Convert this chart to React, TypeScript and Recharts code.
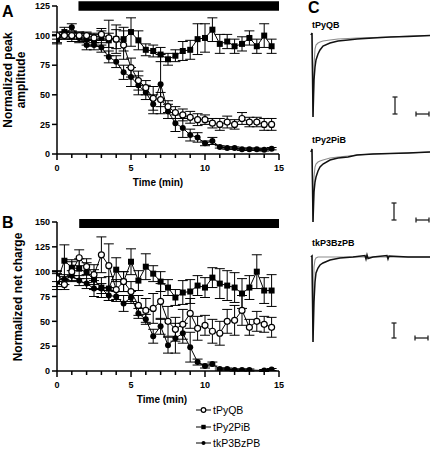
import React from "react";
import {
  LineChart,
  Line,
  XAxis,
  YAxis,
  ErrorBar,
  ReferenceArea,
  ReferenceLine,
  Legend,
} from "recharts";

const FONT = "Arial, 'Liberation Sans', Helvetica, sans-serif";

/* ---------- time-course data (A: peak amplitude, B: net charge) ---------- */

const times = [0, 0.5, 1, 1.5, 2, 2.5, 3, 3.5, 4, 4.5, 5, 5.5, 6, 6.5, 7, 7.5, 8, 8.5, 9, 9.5, 10, 10.5, 11, 11.5, 12, 12.5, 13, 13.5, 14, 14.5];
const timeTicks = [0, 1, 2, 3, 4, 5, 6, 7, 8, 9, 10, 11, 12, 13, 14, 15];
const ampTicks = [0, 25, 50, 75, 100, 125];
const chargeTicks = [0, 25, 50, 75, 100, 125, 150];
const seriesNames = ["tPyQB", "tPy2PiB", "tkP3BzPB"];

const ampQB = [100, 100, 100, 100, 100, 98, 101, 98, 97, 92, 73, 62, 56, 47, 46, 40, 35, 33, 31, 29, 29, 26, 25, 27, 25, 30, 27, 27, 25, 25];
const ampQBErr = [3, 3, 3, 3, 3, 4, 5, 15, 12, 12, 8, 8, 6, 10, 6, 5, 5, 5, 5, 5, 4, 4, 5, 5, 4, 5, 4, 4, 5, 5];
const ampPi = [97, 103, 99, 99, 97, 96, 98, 96, 97, 97, 103, 96, 88, 87, 84, 80, 83, 87, 88, 97, 98, 105, 93, 95, 91, 93, 98, 91, 100, 91];
const ampPiErr = [4, 4, 4, 4, 5, 5, 6, 6, 8, 10, 12, 8, 5, 5, 6, 5, 5, 8, 8, 13, 12, 10, 8, 6, 6, 6, 6, 6, 10, 6];
const ampBz = [97, 100, 107, 98, 92, 92, 90, 82, 78, 69, 65, 58, 52, 42, 59, 36, 26, 22, 16, 14, 9, 11, 6, 5, 5, 4, 4, 4, 3.5, 4.5];
const ampBzErr = [3, 3, 3, 4, 4, 4, 4, 5, 5, 6, 8, 8, 6, 8, 25, 6, 7, 8, 5, 4, 2, 3, 1, 1, 1, 1, 1, 1, 1, 1];

const chgQB = [93, 87, 100, 114, 105, 97, 117, 106, 82, 90, 80, 66, 61, 63, 70, 50, 42, 47, 58, 43, 46, 40, 38, 50, 51, 61, 44, 50, 47, 44];
const chgQBErr = [8, 5, 10, 8, 8, 10, 18, 22, 10, 10, 10, 10, 12, 15, 18, 15, 12, 15, 15, 12, 10, 12, 12, 12, 15, 15, 8, 10, 8, 10];
const chgPi = [90, 111, 104, 103, 99, 92, 84, 83, 102, 90, 110, 91, 105, 98, 90, 84, 74, 79, 80, 86, 84, 94, 88, 86, 84, 78, 84, 100, 81, 81];
const chgPiErr = [8, 16, 8, 10, 10, 10, 10, 12, 12, 10, 13, 10, 13, 8, 10, 8, 8, 12, 12, 10, 10, 10, 15, 15, 15, 15, 12, 17, 13, 16];
const chgBz = [95, 92, 96, 91, 88, 83, 83, 76, 75, 68, 74, 58, 52, 35, 45, 26, 33, 38, 24, 9, 5, 7, 2, 2, 1, 1, 1, null, 0.5, 1.5];
const chgBzErr = [5, 5, 5, 5, 5, 8, 5, 5, 5, 8, 6, 5, 5, 7, 8, 8, 15, 10, 15, 3, 2, 2, 1, 1, 1, 1, 1, null, 1, 1];

// drug application bar: [start min, end min, low, high]
const drugBarA = [1.45, 15, 121, 129];
const drugBarB = [1.5, 15, 144, 153];

/* ---------- panel C current traces (ms, normalized current) ---------- */

const traceTimes = [-2, -1, 0, 1, 2, 3, 5, 7, 10, 17, 25, 35, 44, 60, 77, 95, 117];
const qbDrug = [0, 2, -82, -45, -32, -25, -19, -15, -11, -8, -6, -5, -4, -3, -2, -1.5, -0.5];
const qbCtrl = [0, 2, -82, -30, -14, -10, -8, -7, -6, -5, -4, -3.5, -3, -2.5, -2, -1, -0.5];
const piDrug = [0, 3, -70, -40, -30, -25, -19, -15, -12, -8, -6, -5, -3, -2, -1.5, -1, 0];
const piCtrl = [0, 3, -70, -25, -15, -12, -10, -9, -8, -6, -5, -4, -3, -2, -1.5, -1, 0];

const bzTimes = [-2, -1, 0, 1, 2, 3, 5, 7, 10, 17, 27, 40, 52, 53, 54, 55, 60, 74, 75, 76, 95, 117];
const bzDrug = [0, 1, -85, -45, -25, -16, -11, -8, -6, -3, -1, 0, 1.5, -2, 2, -1.5, 0, 1.5, -2, 1, 0, 0];
const bzCtrl = [0, 1, -85, -10, -3, -1, 0, 0, 0, 0, 0, 0, 0, 0, 0, 0, 0, 0, 0, 0, 0, 0];

// scale bars: [vertical at t, top, amplitude, horizontal start t, duration]
const scaleQB = [82, -62, 17, 103, 13];
const scalePi = [81, -51, 17, 103, 13];
const scaleBz = [81, -66, 15, 102, 13];

const buildRows = (vals: (number | null)[][], errs: (number | null)[][]) =>
  times.map((t, i) => ({
    t,
    qb: vals[0][i],
    qbE: errs[0][i],
    pi: vals[1][i],
    piE: errs[1][i],
    bz: vals[2][i],
    bzE: errs[2][i],
  }));

const ampRows = buildRows([ampQB, ampPi, ampBz], [ampQBErr, ampPiErr, ampBzErr]);
const chgRows = buildRows([chgQB, chgPi, chgBz], [chgQBErr, chgPiErr, chgBzErr]);

const traceRows = (ts: number[], drug: number[], ctrl: number[]) =>
  ts.map((t, i) => ({ t, drug: drug[i], ctrl: ctrl[i] }));

/* ---------- markers ---------- */

const OpenDot = (p: any) =>
  p.cy == null ? <g key={p.index} /> : (
    <circle key={p.index} cx={p.cx} cy={p.cy} r={p.r ?? 3.2} fill="#fff" stroke="#000" strokeWidth={1.2} />
  );
const SquareDot = (p: any) => {
  if (p.cy == null) return <g key={p.index} />;
  const s = p.r ? p.r * 2 : 6;
  return <rect key={p.index} x={p.cx - s / 2} y={p.cy - s / 2} width={s} height={s} fill="#000" />;
};
const FilledDot = (p: any) =>
  p.cy == null ? <g key={p.index} /> : (
    <circle key={p.index} cx={p.cx} cy={p.cy} r={p.r ?? 3} fill="#000" />
  );

function TimeTick(props: any) {
  const { x, y, payload } = props;
  const major = payload.value % 5 === 0;
  return (
    <g>
      <line x1={x} x2={x} y1={y} y2={y + (major ? 6 : 4)} stroke="#000" strokeWidth={1.5} />
      {major && (
        <text x={x} y={y + 17} textAnchor="middle" fontSize={9} fontWeight="bold" fontFamily={FONT} fill="#000">
          {payload.value}
        </text>
      )}
    </g>
  );
}

function LegendBox() {
  const marks = [OpenDot, SquareDot, FilledDot];
  const sizes = [2.3, 2.2, 2];
  return (
    <div style={{ fontFamily: FONT, fontSize: 10.5, color: "#000" }}>
      {seriesNames.map((name, i) => {
        const Mark = marks[i];
        return (
          <div key={name} style={{ display: "flex", alignItems: "center", height: 16.5 }}>
            <svg width={18} height={10}>
              <line x1={1} x2={16} y1={5} y2={5} stroke="#000" strokeWidth={1} />
              <Mark cx={8.5} cy={5} index={0} r={sizes[i]} />
            </svg>
            <span>{name}</span>
          </div>
        );
      })}
    </div>
  );
}

type PanelProps = {
  rows: any[];
  yMax: number;
  yTicks: number[];
  bar: number[];
  height: number;
  marginTop: number;
  plotH: number;
  yLabel: (p: any) => React.ReactNode;
  xLabelX: number;
  withLegend?: boolean;
};

function Timecourse({ rows, yMax, yTicks, bar, height, marginTop, plotH, yLabel, xLabelX, withLegend }: PanelProps) {
  const axisY = marginTop + plotH;
  return (
    <LineChart
      width={290}
      height={height}
      data={rows}
      margin={{ top: marginTop, right: 11, left: 27, bottom: height - marginTop - plotH - 30 }}
    >
      <XAxis
        dataKey="t"
        type="number"
        domain={[0, 15]}
        ticks={timeTicks}
        interval={0}
        allowDataOverflow
        height={30}
        tickSize={0}
        tickMargin={0}
        tickLine={false}
        axisLine={{ stroke: "#000", strokeWidth: 1.5 }}
        tick={TimeTick}
        label={() => (
          <text x={xLabelX} y={axisY + 32} textAnchor="middle" fontSize={10} fontWeight="bold" fontFamily={FONT} fill="#000">
            Time (min)
          </text>
        )}
      />
      <YAxis
        type="number"
        domain={[0, yMax]}
        ticks={yTicks}
        interval={0}
        allowDataOverflow
        width={30}
        tickSize={5}
        tickMargin={2}
        axisLine={{ stroke: "#000", strokeWidth: 1.5 }}
        tickLine={{ stroke: "#000", strokeWidth: 1.5 }}
        tick={{ fontSize: 9, fontWeight: "bold", fill: "#000", fontFamily: FONT }}
        label={yLabel}
      />
      <ReferenceArea x1={bar[0]} x2={bar[1]} y1={bar[2]} y2={bar[3]} fill="#000" fillOpacity={1} stroke="none" ifOverflow="visible" />
      <Line dataKey="pi" name={seriesNames[1]} stroke="#000" strokeWidth={1} dot={SquareDot} isAnimationActive={false} connectNulls>
        <ErrorBar dataKey="piE" width={5} stroke="#000" strokeWidth={1} />
      </Line>
      <Line dataKey="bz" name={seriesNames[2]} stroke="#000" strokeWidth={1} dot={FilledDot} isAnimationActive={false} connectNulls>
        <ErrorBar dataKey="bzE" width={5} stroke="#000" strokeWidth={1} />
      </Line>
      <Line dataKey="qb" name={seriesNames[0]} stroke="#000" strokeWidth={1} dot={OpenDot} isAnimationActive={false} connectNulls>
        <ErrorBar dataKey="qbE" width={5} stroke="#000" strokeWidth={1} />
      </Line>
      {withLegend && (
        <Legend
          layout="vertical"
          align="center"
          verticalAlign="middle"
          wrapperStyle={{ left: 195, top: 207, width: 100 }}
          content={() => <LegendBox />}
        />
      )}
    </LineChart>
  );
}

function AmpYLabel() {
  return (
    <g fontSize={12} fontWeight="bold" fontFamily={FONT} fill="#000">
      <text x={12} y={80} textAnchor="middle" transform="rotate(-90 12 80)">Normalized peak</text>
      <text x={24.5} y={80} textAnchor="middle" transform="rotate(-90 24.5 80)">amplitude</text>
    </g>
  );
}

function ChargeYLabel() {
  return (
    <text x={22} y={102} textAnchor="middle" transform="rotate(-90 22 102)" fontSize={12} fontWeight="bold" fontFamily={FONT} fill="#000">
      Normalized net charge
    </text>
  );
}

type TraceProps = { top: number; height: number; yMin: number; rows: any[]; bar: number[] };

function Trace({ top, height, yMin, rows, bar }: TraceProps) {
  const [vt, vTop, amp, hStart, dur] = bar;
  const vBot = vTop - amp;
  const hEnd = hStart + dur;
  const sb = { stroke: "#222", strokeWidth: 1.3, ifOverflow: "visible" as const };
  return (
    <div style={{ position: "absolute", left: 305, top }}>
      <LineChart width={127} height={height} data={rows} margin={{ top: 0, right: 0, left: 0, bottom: 0 }}>
        <XAxis dataKey="t" type="number" domain={[-8, 119]} allowDataOverflow hide />
        <YAxis type="number" domain={[yMin, 5]} allowDataOverflow hide />
        <Line dataKey="ctrl" type="linear" stroke="#8c8c8c" strokeWidth={1.1} dot={false} isAnimationActive={false} />
        <Line dataKey="drug" type="linear" stroke="#111" strokeWidth={1.5} dot={false} isAnimationActive={false} />
        <ReferenceLine segment={[{ x: vt, y: vTop }, { x: vt, y: vBot }]} {...sb} />
        <ReferenceLine segment={[{ x: vt - 2.5, y: vTop }, { x: vt + 2.5, y: vTop }]} {...sb} />
        <ReferenceLine segment={[{ x: vt - 2.5, y: vBot }, { x: vt + 2.5, y: vBot }]} {...sb} />
        <ReferenceLine segment={[{ x: hStart, y: vBot }, { x: hEnd, y: vBot }]} {...sb} />
        <ReferenceLine segment={[{ x: hStart, y: vBot + 2.5 }, { x: hStart, y: vBot - 2.5 }]} {...sb} />
        <ReferenceLine segment={[{ x: hEnd, y: vBot + 2.5 }, { x: hEnd, y: vBot - 2.5 }]} {...sb} />
      </LineChart>
    </div>
  );
}

const panelLetter: React.CSSProperties = {
  position: "absolute",
  fontFamily: FONT,
  fontWeight: "bold",
  fontSize: 16,
  lineHeight: "16px",
  color: "#000",
};
const traceName: React.CSSProperties = {
  position: "absolute",
  left: 312,
  fontFamily: FONT,
  fontWeight: "bold",
  fontSize: 9,
  lineHeight: "9px",
  color: "#000",
};

export default function App() {
  return (
    <div style={{ position: "absolute", left: 0, top: 0, width: 432, height: 454, background: "#fff", overflow: "hidden" }}>
      <div style={{ position: "absolute", left: 0, top: 0 }}>
        <Timecourse
          rows={ampRows}
          yMax={125}
          yTicks={ampTicks}
          bar={drugBarA}
          height={200}
          marginTop={6}
          plotH={148}
          yLabel={AmpYLabel}
          xLabelX={158}
        />
      </div>
      <div style={{ position: "absolute", left: 0, top: 195 }}>
        <Timecourse
          rows={chgRows}
          yMax={150}
          yTicks={chargeTicks}
          bar={drugBarB}
          height={259}
          marginTop={27}
          plotH={149}
          yLabel={ChargeYLabel}
          xLabelX={162}
          withLegend
        />
      </div>

      <Trace top={30} height={92} yMin={-87} rows={traceRows(traceTimes, qbDrug, qbCtrl)} bar={scaleQB} />
      <Trace top={147} height={80} yMin={-75} rows={traceRows(traceTimes, piDrug, piCtrl)} bar={scalePi} />
      <Trace top={252} height={95} yMin={-90} rows={traceRows(bzTimes, bzDrug, bzCtrl)} bar={scaleBz} />

      <div style={{ ...panelLetter, left: 2, top: 3.5 }}>A</div>
      <div style={{ ...panelLetter, left: 2, top: 214.5 }}>B</div>
      <div style={{ ...panelLetter, left: 308, top: 0 }}>C</div>
      <div style={{ ...traceName, top: 20.5 }}>tPyQB</div>
      <div style={{ ...traceName, top: 136 }}>tPy2PiB</div>
      <div style={{ ...traceName, top: 238.5 }}>tkP3BzPB</div>
    </div>
  );
}
